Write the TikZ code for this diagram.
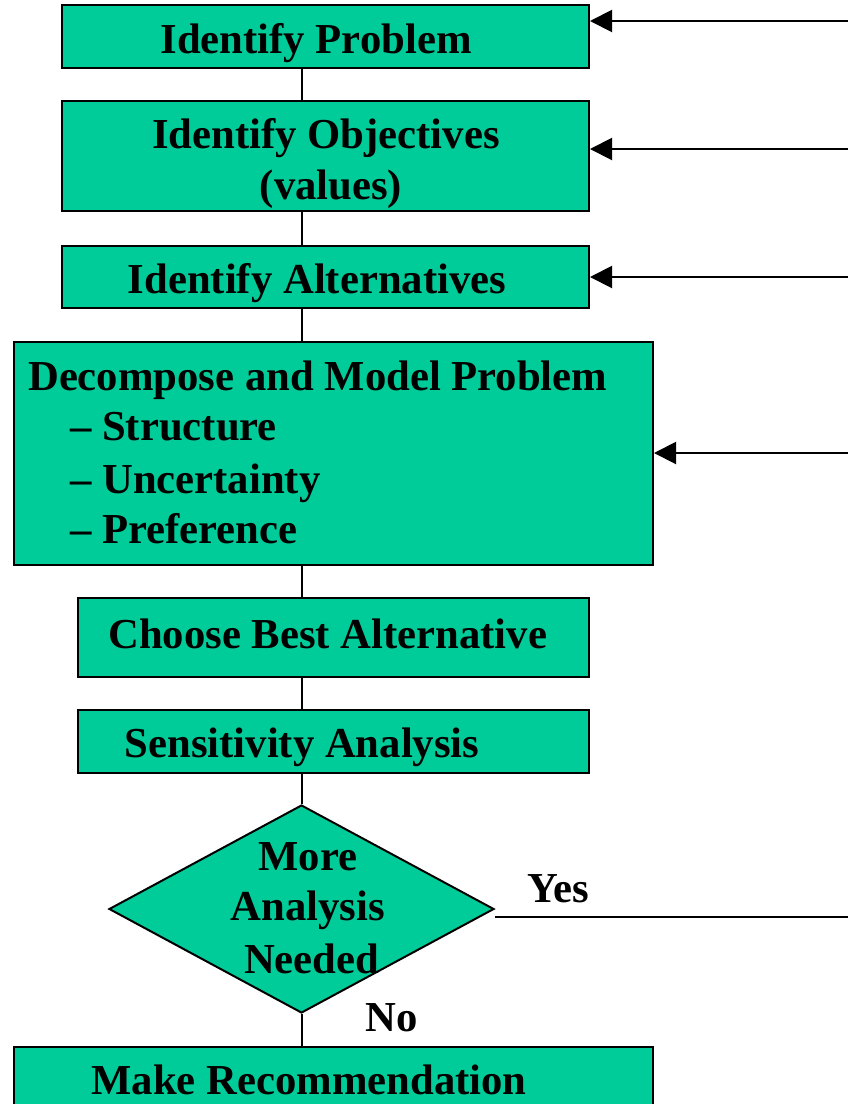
\documentclass[tikz,border=0pt]{standalone}
\usepackage{fontspec}
\setmainfont{Liberation Serif}
\usetikzlibrary{shapes.geometric,arrows.meta}
\definecolor{boxgreen}{RGB}{0,204,153}
\begin{document}
\begin{tikzpicture}[x=1pt,y=-1pt,
  box/.style={draw=black, fill=boxgreen, line width=2pt, rectangle, inner sep=0pt},
  decision/.style={draw=black, fill=boxgreen, line width=2pt, diamond, inner sep=0pt},
  lbl/.style={font=\fontsize{42.7}{51}\selectfont\bfseries, inner sep=0pt, anchor=base},
  lbll/.style={lbl, anchor=base west},
  conn/.style={line width=2pt},
  fb/.style={line width=2pt, -{Triangle[length=22pt,width=22pt]}}]
\useasboundingbox (0,0) rectangle (848,1104);
\clip (0,0) rectangle (848,1104);

% boxes
\node[box, minimum width=527pt, minimum height=63pt]  (b1) at (325.5,36.5) {};
\node[box, minimum width=527pt, minimum height=110pt] (b2) at (325.5,156) {};
\node[box, minimum width=527pt, minimum height=62pt]  (b3) at (325.5,277) {};
\node[box, minimum width=639pt, minimum height=223pt] (b4) at (333.5,453.5) {};
\node[box, minimum width=511pt, minimum height=79pt]  (b5) at (333.5,637.5) {};
\node[box, minimum width=511pt, minimum height=63pt]  (b6) at (333.5,741.5) {};
\node[decision, minimum width=385pt, minimum height=208pt] (d) at (301.5,909) {};
\node[box, minimum width=639pt, minimum height=73pt]  (b7) at (333.5,1083.5) {};

% texts
\node[lbl] (t1) at (316,53) {Identify Problem};
\node[lbl] (t2a) at (326,148) {Identify Objectives};
\node[lbl] (t2b) at (331,199) {(values)};
\node[lbl] (t3) at (317,293) {Identify Alternatives};
\node[lbll] (t4a) at (28,390.7) {Decompose and Model Problem};
\node[lbll] (t4b) at (70,440.7) {– Structure};
\node[lbll] (t4c) at (70,493) {– Uncertainty};
\node[lbll] (t4d) at (70,543) {– Preference};
\node[lbl] (t5) at (327.7,648) {Choose Best Alternative};
\node[lbl] (t6) at (302,757) {Sensitivity Analysis};
\node[lbl] (td1) at (308,870) {More};
\node[lbl] (td2) at (307.6,920) {Analysis};
\node[lbl] (td3) at (311.6,973) {Needed};
\node[lbll] (yes) at (527,902) {Yes};
\node[lbll] (no) at (365,1031) {No};
\node[lbl] (t7) at (309,1094) {Make Recommendation};

% vertical connectors
\draw[conn] (b1.south -| d.north) -- (b2.north -| d.north);
\draw[conn] (b2.south -| d.north) -- (b3.north -| d.north);
\draw[conn] (b3.south -| d.north) -- (b4.north -| d.north);
\draw[conn] (b4.south -| d.north) -- (b5.north -| d.north);
\draw[conn] (b5.south -| d.north) -- (b6.north -| d.north);
\draw[conn] (b6.south -| d.north) -- (d.north);
\draw[conn] (d.south) -- (b7.north -| d.south);

% feedback arrows
\coordinate (r1) at (848,21);
\coordinate (r2) at (848,149);
\coordinate (r3) at (848,277);
\coordinate (r4) at (848,453);
\coordinate (ry) at (848,917);
\draw[fb] (r1) -- (r1 -| b1.east);
\draw[fb] (r2) -- (r2 -| b2.east);
\draw[fb] (r3) -- (r3 -| b3.east);
\draw[fb] (r4) -- (r4 -| b4.east);
\draw[conn] (ry -| d.east) -- (ry);
\end{tikzpicture}
\end{document}
